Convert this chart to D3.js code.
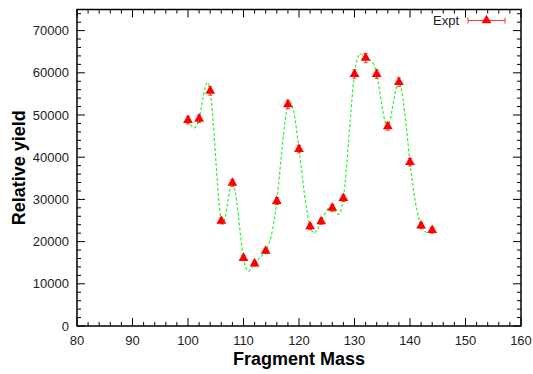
<!DOCTYPE html>
<head>
<meta charset="utf-8">
<style>
  body { margin: 0; background-color: white; }
  svg { background-color: white; font-family: 'Liberation Sans', Arial, sans-serif; }
  .tickLabel { font-size: 13px; fill: #222; }
  .axisTitle { font-size: 18px; font-weight: bold; fill: #000; }
</style>
</head>
<body>
<script src="https://d3js.org/d3.v7.min.js"></script>
<script>

// DATA
var masses = [100, 102, 104, 106, 108, 110, 112, 114, 116, 118, 120, 122,
              124, 126, 128, 130, 132, 134, 136, 138, 140, 142, 144];
var yields = [48800, 49100, 55700, 24900, 33900, 16100, 14800, 17800, 29600, 52500, 41900, 23600,
              24800, 28000, 30300, 59700, 63500, 59700, 47300, 57800, 38800, 23800, 22700];
var errors = [900, 900, 1000, 700, 800, 600, 600, 600, 800, 1000, 900, 700,
              700, 800, 800, 1000, 1100, 1000, 900, 1000, 900, 700, 700];
var xTicks = [80, 90, 100, 110, 120, 130, 140, 150, 160];
var yTicks = [0, 10000, 20000, 30000, 40000, 50000, 60000, 70000];
var legendLabel = 'Expt';

var data = masses.map((m, i) => ({ x: m, y: yields[i], e: errors[i] }));

// DIMENSIONS
var width = 533, height = 374;
var margin = { top: 9.5, right: 12, bottom: 48, left: 77 };

var svg = d3.select('body').append('svg')
    .attr('width', width)
    .attr('height', height);

// SCALES
var xScale = d3.scaleLinear([80, 160], [margin.left, width - margin.right]);
var yScale = d3.scaleLinear([0, 75000], [height - margin.bottom, margin.top]);

var x0 = xScale.range()[0], x1 = xScale.range()[1];
var y0 = yScale.range()[0], y1 = yScale.range()[1];

// TICKS (inward, mirrored on all four sides)
var ticks = svg.append('g').attr('stroke', '#000').attr('stroke-width', 1);
var xMinor = d3.range(80, 160.1, 2);
var yMinor = d3.range(0, 75001, 2000);

xMinor.forEach(function (v) {
  var len = (v % 10 === 0) ? 8 : 4;
  ticks.append('line').attr('x1', xScale(v)).attr('x2', xScale(v)).attr('y1', y0).attr('y2', y0 - len);
  ticks.append('line').attr('x1', xScale(v)).attr('x2', xScale(v)).attr('y1', y1).attr('y2', y1 + len);
});
yMinor.forEach(function (v) {
  var len = (v % 10000 === 0) ? 8 : 4;
  ticks.append('line').attr('y1', yScale(v)).attr('y2', yScale(v)).attr('x1', x0).attr('x2', x0 + len);
  ticks.append('line').attr('y1', yScale(v)).attr('y2', yScale(v)).attr('x1', x1).attr('x2', x1 - len);
});

// FRAME
svg.append('rect')
    .attr('x', x0).attr('y', y1)
    .attr('width', x1 - x0).attr('height', y0 - y1)
    .attr('fill', 'none')
    .attr('stroke', '#000')
    .attr('stroke-width', 1.5);

// TICK LABELS
svg.append('g').selectAll('text')
    .data(xTicks).join('text')
    .attr('class', 'tickLabel')
    .attr('x', d => xScale(d))
    .attr('y', y0 + 19)
    .attr('text-anchor', 'middle')
    .text(d => d);

svg.append('g').selectAll('text')
    .data(yTicks).join('text')
    .attr('class', 'tickLabel')
    .attr('x', x0 - 8)
    .attr('y', d => yScale(d) + 4.5)
    .attr('text-anchor', 'end')
    .text(d => d);

// AXIS TITLES
svg.append('text')
    .attr('class', 'axisTitle')
    .attr('x', (x0 + x1) / 2)
    .attr('y', 365)
    .attr('text-anchor', 'middle')
    .text('Fragment Mass');

svg.append('text')
    .attr('class', 'axisTitle')
    .attr('transform', 'translate(25,' + ((y0 + y1) / 2) + ') rotate(-90)')
    .attr('text-anchor', 'middle')
    .text('Relative yield');

// FIT CURVE
var line = d3.line()
    .curve(d3.curveNatural)
    .x(d => xScale(d.x))
    .y(d => yScale(d.y));

svg.append('path')
    .datum(data)
    .attr('d', line)
    .attr('fill', 'none')
    .attr('stroke', '#33ee33')
    .attr('stroke-width', 1.2)
    .attr('stroke-dasharray', '3,2');

// ERROR BARS
var eb = svg.append('g').attr('stroke', '#ff3333').attr('stroke-width', 1);
data.forEach(function (d) {
  var cx = xScale(d.x);
  eb.append('line').attr('x1', cx).attr('x2', cx).attr('y1', yScale(d.y - d.e)).attr('y2', yScale(d.y + d.e));
  eb.append('line').attr('x1', cx - 2).attr('x2', cx + 2).attr('y1', yScale(d.y - d.e)).attr('y2', yScale(d.y - d.e));
  eb.append('line').attr('x1', cx - 2).attr('x2', cx + 2).attr('y1', yScale(d.y + d.e)).attr('y2', yScale(d.y + d.e));
});

// MARKERS
var tri = d3.symbol(d3.symbolTriangle).size(42);
svg.append('g').selectAll('path')
    .data(data).join('path')
    .attr('d', tri)
    .attr('transform', d => 'translate(' + xScale(d.x) + ',' + yScale(d.y) + ')')
    .attr('fill', '#ff0000');

// LEGEND
var ly = 20.5, lx0 = 468, lx1 = 505;
svg.append('text')
    .attr('class', 'tickLabel')
    .attr('x', 459)
    .attr('y', ly + 4.5)
    .attr('text-anchor', 'end')
    .attr('fill', '#222')
    .text(legendLabel);

var lg = svg.append('g').attr('stroke', '#ff3333').attr('stroke-width', 1);
lg.append('line').attr('x1', lx0).attr('x2', lx1).attr('y1', ly).attr('y2', ly);
lg.append('line').attr('x1', lx0).attr('x2', lx0).attr('y1', ly - 3).attr('y2', ly + 3);
lg.append('line').attr('x1', lx1).attr('x2', lx1).attr('y1', ly - 3).attr('y2', ly + 3);
svg.append('path')
    .attr('d', tri)
    .attr('transform', 'translate(' + ((lx0 + lx1) / 2) + ',' + ly + ')')
    .attr('fill', '#ff0000');

</script>
</body>
